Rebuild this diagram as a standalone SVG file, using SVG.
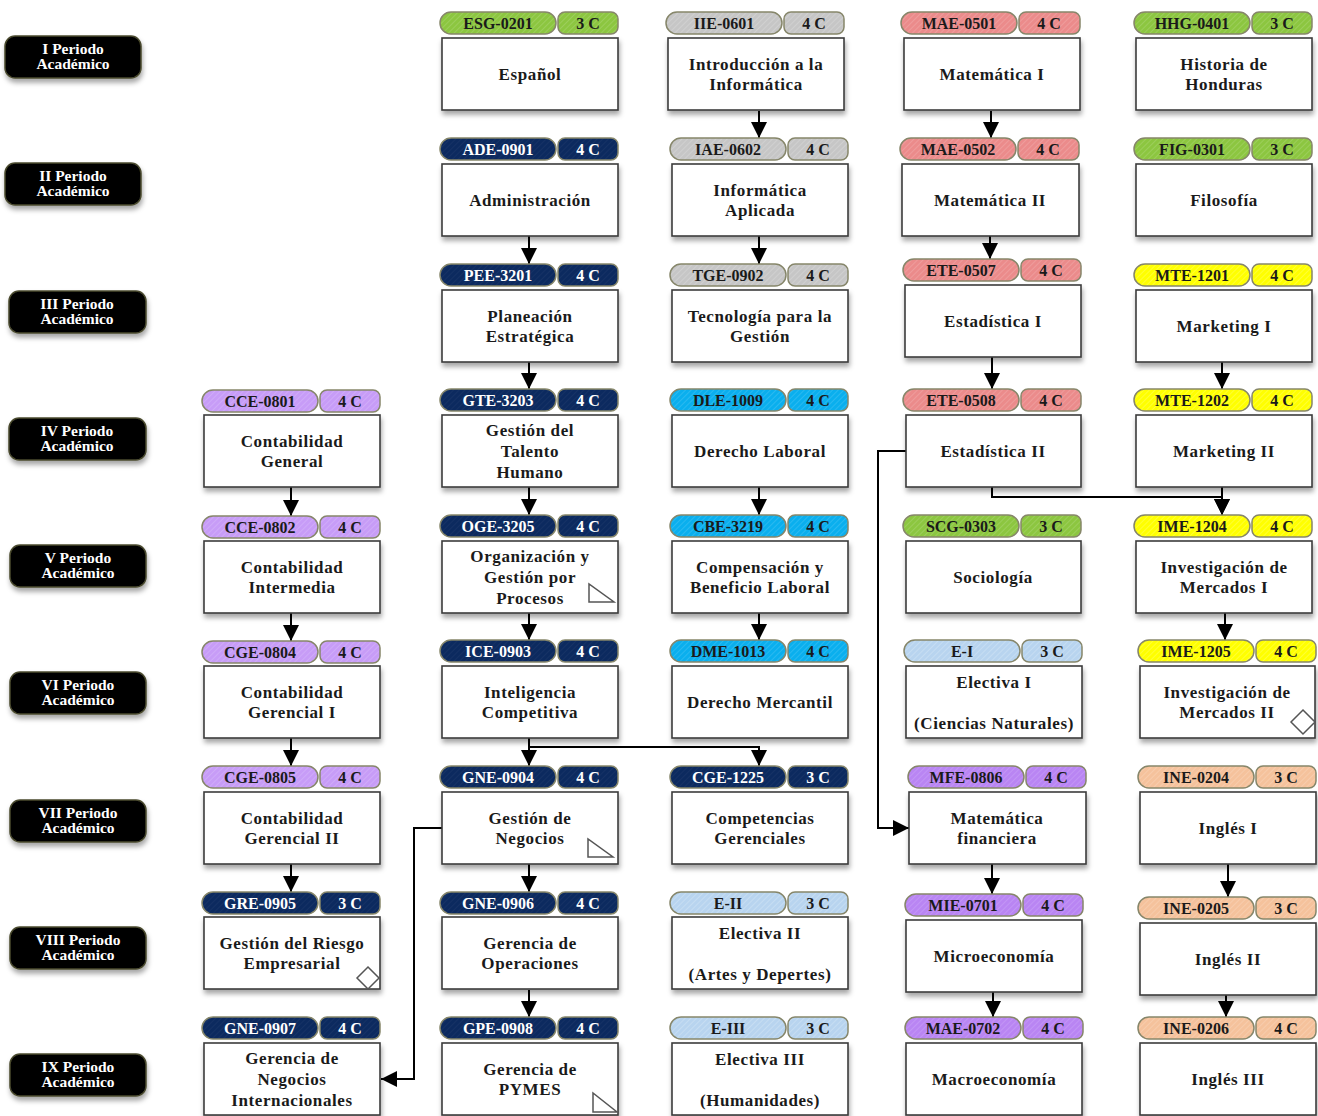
<svg xmlns="http://www.w3.org/2000/svg" width="1318" height="1116" viewBox="0 0 1318 1116">
<style>
.bg{fill:#ffffff}
.hd{stroke:#86866a;stroke-width:1.5}
.box{fill:#ffffff;stroke:#3c3c3c;stroke-width:1.6;filter:url(#sh)}
.per{fill:#000000;stroke:#4a4a2e;stroke-width:1.5;filter:url(#sh)}
.ht{font-family:"Liberation Serif","Times New Roman",serif;font-weight:bold;font-size:16px;text-anchor:middle;fill:#1a1a1a}
.hw{fill:#ffffff}
.t{font-family:"Liberation Serif","Times New Roman",serif;font-weight:bold;font-size:17px;letter-spacing:0.6px;text-anchor:middle;fill:#1a1a1a}
.pt{font-family:"Liberation Serif","Times New Roman",serif;font-weight:bold;font-size:15.5px;text-anchor:middle;fill:#ffffff}
.ic{fill:#ffffff;stroke:#555555;stroke-width:1.5}
.c{fill:none;stroke:#000000;stroke-width:2;marker-end:url(#ar)}
</style>
<defs>
<filter id="sh" x="-10%" y="-10%" width="125%" height="140%">
<feDropShadow dx="1" dy="4" stdDeviation="2.5" flood-color="#000" flood-opacity="0.35"/>
</filter>
<marker id="ar" viewBox="0 0 10 10" refX="10" refY="5" markerWidth="16" markerHeight="16" markerUnits="userSpaceOnUse" orient="auto">
<path d="M0,0 L10,5 L0,10 z" fill="#000"/>
</marker>
<pattern id="pg" width="4" height="4" patternUnits="userSpaceOnUse" patternTransform="rotate(45)"><rect width="4" height="4" fill="#8cc640"/><rect width="1" height="4" fill="#fff" fill-opacity="0.14"/></pattern>
<pattern id="pa" width="4" height="4" patternUnits="userSpaceOnUse" patternTransform="rotate(45)"><rect width="4" height="4" fill="#c6c6c6"/><rect width="1" height="4" fill="#fff" fill-opacity="0.18"/></pattern>
<pattern id="pn" width="4" height="4" patternUnits="userSpaceOnUse" patternTransform="rotate(45)"><rect width="4" height="4" fill="#0c2a5f"/><rect width="1" height="4" fill="#fff" fill-opacity="0.04"/></pattern>
<pattern id="pr" width="4" height="4" patternUnits="userSpaceOnUse" patternTransform="rotate(45)"><rect width="4" height="4" fill="#eb8b8b"/><rect width="1" height="4" fill="#fff" fill-opacity="0.15"/></pattern>
<pattern id="py" width="4" height="4" patternUnits="userSpaceOnUse" patternTransform="rotate(45)"><rect width="4" height="4" fill="#ffff00"/><rect width="1" height="4" fill="#fff" fill-opacity="0.2"/></pattern>
<pattern id="pc" width="4" height="4" patternUnits="userSpaceOnUse" patternTransform="rotate(45)"><rect width="4" height="4" fill="#0aafee"/><rect width="1" height="4" fill="#fff" fill-opacity="0.13"/></pattern>
<pattern id="pl" width="4" height="4" patternUnits="userSpaceOnUse" patternTransform="rotate(45)"><rect width="4" height="4" fill="#c79cf7"/><rect width="1" height="4" fill="#fff" fill-opacity="0.15"/></pattern>
<pattern id="pv" width="4" height="4" patternUnits="userSpaceOnUse" patternTransform="rotate(45)"><rect width="4" height="4" fill="#b985f3"/><rect width="1" height="4" fill="#fff" fill-opacity="0.13"/></pattern>
<pattern id="pb" width="4" height="4" patternUnits="userSpaceOnUse" patternTransform="rotate(45)"><rect width="4" height="4" fill="#b8d4ef"/><rect width="1" height="4" fill="#fff" fill-opacity="0.2"/></pattern>
<pattern id="po" width="4" height="4" patternUnits="userSpaceOnUse" patternTransform="rotate(45)"><rect width="4" height="4" fill="#f5c29c"/><rect width="1" height="4" fill="#fff" fill-opacity="0.16"/></pattern>
</defs>
<rect class="bg" x="0" y="0" width="1318" height="1116"/>

<g id="periods">
<g id="p1"><rect class="per" x="5" y="36" width="136" height="42" rx="10"/><text class="pt" x="73" y="54">I Periodo</text><text class="pt" x="73" y="69">Académico</text></g>
<g id="p2"><rect class="per" x="5" y="163" width="136" height="42" rx="10"/><text class="pt" x="73" y="181">II Periodo</text><text class="pt" x="73" y="196">Académico</text></g>
<g id="p3"><rect class="per" x="9" y="291" width="137" height="42" rx="10"/><text class="pt" x="77" y="309">III Periodo</text><text class="pt" x="77" y="324">Académico</text></g>
<g id="p4"><rect class="per" x="9" y="418" width="137" height="42" rx="10"/><text class="pt" x="77" y="436">IV Periodo</text><text class="pt" x="77" y="451">Académico</text></g>
<g id="p5"><rect class="per" x="10" y="545" width="136" height="42" rx="10"/><text class="pt" x="78" y="563">V Periodo</text><text class="pt" x="78" y="578">Académico</text></g>
<g id="p6"><rect class="per" x="10" y="672" width="136" height="42" rx="10"/><text class="pt" x="78" y="690">VI Periodo</text><text class="pt" x="78" y="705">Académico</text></g>
<g id="p7"><rect class="per" x="10" y="800" width="136" height="42" rx="10"/><text class="pt" x="78" y="818">VII Periodo</text><text class="pt" x="78" y="833">Académico</text></g>
<g id="p8"><rect class="per" x="10" y="927" width="136" height="42" rx="10"/><text class="pt" x="78" y="945">VIII Periodo</text><text class="pt" x="78" y="960">Académico</text></g>
<g id="p9"><rect class="per" x="10" y="1054" width="136" height="42" rx="10"/><text class="pt" x="78" y="1072">IX Periodo</text><text class="pt" x="78" y="1087">Académico</text></g>
</g>

<g id="connectors">
<path class="c" d="M759,111 V138"/>
<path class="c" d="M991,111 V138"/>
<path class="c" d="M529,236 V264"/>
<path class="c" d="M759,236 V264"/>
<path class="c" d="M990,236 V259"/>
<path class="c" d="M529,362 V389"/>
<path class="c" d="M992,357 V389"/>
<path class="c" d="M1222,362 V389"/>
<path class="c" d="M291,487 V516"/>
<path class="c" d="M529,487 V515"/>
<path class="c" d="M759,487 V515"/>
<path class="c" d="M1222,487 V515"/>
<path class="c" d="M992,487 V497 H1222 V515"/>
<path class="c" d="M906,451 H878 V828 H909"/>
<path class="c" d="M291,613 V641"/>
<path class="c" d="M529,613 V640"/>
<path class="c" d="M759,613 V640"/>
<path class="c" d="M1225,613 V640"/>
<path class="c" d="M291,738 V766"/>
<path class="c" d="M529,738 V766"/>
<path class="c" d="M529,747 H759 V766"/>
<path class="c" d="M291,864 V892"/>
<path class="c" d="M529,864 V892"/>
<path class="c" d="M992,864 V894"/>
<path class="c" d="M1228,864 V897"/>
<path class="c" d="M442,828 H414 V1079 H381"/>
<path class="c" d="M529,990 V1017"/>
<path class="c" d="M993,992 V1017"/>
<path class="c" d="M1226,995 V1017"/>
</g>

<!-- Column 0 -->
<g id="n-CCE-0801"><rect class="hd" x="202" y="390" width="116" height="22" rx="11" fill="url(#pl)"/><rect class="hd" x="320" y="390" width="60" height="22" rx="7" fill="url(#pl)"/><text class="ht" x="260" y="407">CCE-0801</text><text class="ht" x="350" y="407">4 C</text><rect class="box" x="204" y="415" width="176" height="72"/><text class="t" x="292" y="447">Contabilidad</text><text class="t" x="292" y="467">General</text></g>
<g id="n-CCE-0802"><rect class="hd" x="202" y="516" width="116" height="22" rx="11" fill="url(#pl)"/><rect class="hd" x="320" y="516" width="60" height="22" rx="7" fill="url(#pl)"/><text class="ht" x="260" y="533">CCE-0802</text><text class="ht" x="350" y="533">4 C</text><rect class="box" x="204" y="541" width="176" height="72"/><text class="t" x="292" y="573">Contabilidad</text><text class="t" x="292" y="593">Intermedia</text></g>
<g id="n-CGE-0804"><rect class="hd" x="202" y="641" width="116" height="22" rx="11" fill="url(#pl)"/><rect class="hd" x="320" y="641" width="60" height="22" rx="7" fill="url(#pl)"/><text class="ht" x="260" y="658">CGE-0804</text><text class="ht" x="350" y="658">4 C</text><rect class="box" x="204" y="666" width="176" height="72"/><text class="t" x="292" y="698">Contabilidad</text><text class="t" x="292" y="718">Gerencial I</text></g>
<g id="n-CGE-0805"><rect class="hd" x="202" y="766" width="116" height="22" rx="11" fill="url(#pl)"/><rect class="hd" x="320" y="766" width="60" height="22" rx="7" fill="url(#pl)"/><text class="ht" x="260" y="783">CGE-0805</text><text class="ht" x="350" y="783">4 C</text><rect class="box" x="204" y="792" width="176" height="72"/><text class="t" x="292" y="824">Contabilidad</text><text class="t" x="292" y="844">Gerencial II</text></g>
<g id="n-GRE-0905"><rect class="hd" x="202" y="892" width="116" height="22" rx="11" fill="url(#pn)"/><rect class="hd" x="320" y="892" width="60" height="22" rx="7" fill="url(#pn)"/><text class="ht hw" x="260" y="909">GRE-0905</text><text class="ht hw" x="350" y="909">3 C</text><rect class="box" x="204" y="917" width="176" height="72"/><text class="t" x="292" y="949">Gestión del Riesgo</text><text class="t" x="292" y="969">Empresarial</text><polygon class="ic" points="368,967 379,978 368,989 357,978"/></g>
<g id="n-GNE-0907"><rect class="hd" x="202" y="1017" width="116" height="22" rx="11" fill="url(#pn)"/><rect class="hd" x="320" y="1017" width="60" height="22" rx="7" fill="url(#pn)"/><text class="ht hw" x="260" y="1034">GNE-0907</text><text class="ht hw" x="350" y="1034">4 C</text><rect class="box" x="204" y="1043" width="176" height="72"/><text class="t" x="292" y="1064">Gerencia de</text><text class="t" x="292" y="1085">Negocios</text><text class="t" x="292" y="1106">Internacionales</text></g>

<!-- Column 1 -->
<g id="n-ESG-0201"><rect class="hd" x="440" y="12" width="116" height="22" rx="11" fill="url(#pg)"/><rect class="hd" x="558" y="12" width="60" height="22" rx="7" fill="url(#pg)"/><text class="ht" x="498" y="29">ESG-0201</text><text class="ht" x="588" y="29">3 C</text><rect class="box" x="442" y="38" width="176" height="72"/><text class="t" x="530" y="80">Español</text></g>
<g id="n-ADE-0901"><rect class="hd" x="440" y="138" width="116" height="22" rx="11" fill="url(#pn)"/><rect class="hd" x="558" y="138" width="60" height="22" rx="7" fill="url(#pn)"/><text class="ht hw" x="498" y="155">ADE-0901</text><text class="ht hw" x="588" y="155">4 C</text><rect class="box" x="442" y="164" width="176" height="72"/><text class="t" x="530" y="206">Administración</text></g>
<g id="n-PEE-3201"><rect class="hd" x="440" y="264" width="116" height="22" rx="11" fill="url(#pn)"/><rect class="hd" x="558" y="264" width="60" height="22" rx="7" fill="url(#pn)"/><text class="ht hw" x="498" y="281">PEE-3201</text><text class="ht hw" x="588" y="281">4 C</text><rect class="box" x="442" y="290" width="176" height="72"/><text class="t" x="530" y="322">Planeación</text><text class="t" x="530" y="342">Estratégica</text></g>
<g id="n-GTE-3203"><rect class="hd" x="440" y="389" width="116" height="22" rx="11" fill="url(#pn)"/><rect class="hd" x="558" y="389" width="60" height="22" rx="7" fill="url(#pn)"/><text class="ht hw" x="498" y="406">GTE-3203</text><text class="ht hw" x="588" y="406">4 C</text><rect class="box" x="442" y="415" width="176" height="72"/><text class="t" x="530" y="436">Gestión del</text><text class="t" x="530" y="457">Talento</text><text class="t" x="530" y="478">Humano</text></g>
<g id="n-OGE-3205"><rect class="hd" x="440" y="515" width="116" height="22" rx="11" fill="url(#pn)"/><rect class="hd" x="558" y="515" width="60" height="22" rx="7" fill="url(#pn)"/><text class="ht hw" x="498" y="532">OGE-3205</text><text class="ht hw" x="588" y="532">4 C</text><rect class="box" x="442" y="541" width="176" height="72"/><text class="t" x="530" y="562">Organización y</text><text class="t" x="530" y="583">Gestión por</text><text class="t" x="530" y="604">Procesos</text><polygon class="ic" points="589,584 589,602 614,602"/></g>
<g id="n-ICE-0903"><rect class="hd" x="440" y="640" width="116" height="22" rx="11" fill="url(#pn)"/><rect class="hd" x="558" y="640" width="60" height="22" rx="7" fill="url(#pn)"/><text class="ht hw" x="498" y="657">ICE-0903</text><text class="ht hw" x="588" y="657">4 C</text><rect class="box" x="442" y="666" width="176" height="72"/><text class="t" x="530" y="698">Inteligencia</text><text class="t" x="530" y="718">Competitiva</text></g>
<g id="n-GNE-0904"><rect class="hd" x="440" y="766" width="116" height="22" rx="11" fill="url(#pn)"/><rect class="hd" x="558" y="766" width="60" height="22" rx="7" fill="url(#pn)"/><text class="ht hw" x="498" y="783">GNE-0904</text><text class="ht hw" x="588" y="783">4 C</text><rect class="box" x="442" y="792" width="176" height="72"/><text class="t" x="530" y="824">Gestión de</text><text class="t" x="530" y="844">Negocios</text><polygon class="ic" points="588,839 588,857 613,857"/></g>
<g id="n-GNE-0906"><rect class="hd" x="440" y="892" width="116" height="22" rx="11" fill="url(#pn)"/><rect class="hd" x="558" y="892" width="60" height="22" rx="7" fill="url(#pn)"/><text class="ht hw" x="498" y="909">GNE-0906</text><text class="ht hw" x="588" y="909">4 C</text><rect class="box" x="442" y="917" width="176" height="72"/><text class="t" x="530" y="949">Gerencia de</text><text class="t" x="530" y="969">Operaciones</text></g>
<g id="n-GPE-0908"><rect class="hd" x="440" y="1017" width="116" height="22" rx="11" fill="url(#pn)"/><rect class="hd" x="558" y="1017" width="60" height="22" rx="7" fill="url(#pn)"/><text class="ht hw" x="498" y="1034">GPE-0908</text><text class="ht hw" x="588" y="1034">4 C</text><rect class="box" x="442" y="1043" width="176" height="72"/><text class="t" x="530" y="1075">Gerencia de</text><text class="t" x="530" y="1095">PYMES</text><polygon class="ic" points="593,1093 593,1112 617,1112"/></g>

<!-- Column 2 -->
<g id="n-IIE-0601"><rect class="hd" x="666" y="12" width="116" height="22" rx="11" fill="url(#pa)"/><rect class="hd" x="784" y="12" width="60" height="22" rx="7" fill="url(#pa)"/><text class="ht" x="724" y="29">IIE-0601</text><text class="ht" x="814" y="29">4 C</text><rect class="box" x="668" y="38" width="176" height="72"/><text class="t" x="756" y="70">Introducción a la</text><text class="t" x="756" y="90">Informática</text></g>
<g id="n-IAE-0602"><rect class="hd" x="670" y="138" width="116" height="22" rx="11" fill="url(#pa)"/><rect class="hd" x="788" y="138" width="60" height="22" rx="7" fill="url(#pa)"/><text class="ht" x="728" y="155">IAE-0602</text><text class="ht" x="818" y="155">4 C</text><rect class="box" x="672" y="164" width="176" height="72"/><text class="t" x="760" y="196">Informática</text><text class="t" x="760" y="216">Aplicada</text></g>
<g id="n-TGE-0902"><rect class="hd" x="670" y="264" width="116" height="22" rx="11" fill="url(#pa)"/><rect class="hd" x="788" y="264" width="60" height="22" rx="7" fill="url(#pa)"/><text class="ht" x="728" y="281">TGE-0902</text><text class="ht" x="818" y="281">4 C</text><rect class="box" x="672" y="290" width="176" height="72"/><text class="t" x="760" y="322">Tecnología para la</text><text class="t" x="760" y="342">Gestión</text></g>
<g id="n-DLE-1009"><rect class="hd" x="670" y="389" width="116" height="22" rx="11" fill="url(#pc)"/><rect class="hd" x="788" y="389" width="60" height="22" rx="7" fill="url(#pc)"/><text class="ht" x="728" y="406">DLE-1009</text><text class="ht" x="818" y="406">4 C</text><rect class="box" x="672" y="415" width="176" height="72"/><text class="t" x="760" y="457">Derecho Laboral</text></g>
<g id="n-CBE-3219"><rect class="hd" x="670" y="515" width="116" height="22" rx="11" fill="url(#pc)"/><rect class="hd" x="788" y="515" width="60" height="22" rx="7" fill="url(#pc)"/><text class="ht" x="728" y="532">CBE-3219</text><text class="ht" x="818" y="532">4 C</text><rect class="box" x="672" y="541" width="176" height="72"/><text class="t" x="760" y="573">Compensación y</text><text class="t" x="760" y="593">Beneficio Laboral</text></g>
<g id="n-DME-1013"><rect class="hd" x="670" y="640" width="116" height="22" rx="11" fill="url(#pc)"/><rect class="hd" x="788" y="640" width="60" height="22" rx="7" fill="url(#pc)"/><text class="ht" x="728" y="657">DME-1013</text><text class="ht" x="818" y="657">4 C</text><rect class="box" x="672" y="666" width="176" height="72"/><text class="t" x="760" y="708">Derecho Mercantil</text></g>
<g id="n-CGE-1225"><rect class="hd" x="670" y="766" width="116" height="22" rx="11" fill="url(#pn)"/><rect class="hd" x="788" y="766" width="60" height="22" rx="7" fill="url(#pn)"/><text class="ht hw" x="728" y="783">CGE-1225</text><text class="ht hw" x="818" y="783">3 C</text><rect class="box" x="672" y="792" width="176" height="72"/><text class="t" x="760" y="824">Competencias</text><text class="t" x="760" y="844">Gerenciales</text></g>
<g id="n-E-II"><rect class="hd" x="670" y="892" width="116" height="22" rx="11" fill="url(#pb)"/><rect class="hd" x="788" y="892" width="60" height="22" rx="7" fill="url(#pb)"/><text class="ht" x="728" y="909">E-II</text><text class="ht" x="818" y="909">3 C</text><rect class="box" x="672" y="917" width="176" height="72"/><text class="t" x="760" y="939">Electiva II</text><text class="t" x="760" y="980">(Artes y Depertes)</text></g>
<g id="n-E-III"><rect class="hd" x="670" y="1017" width="116" height="22" rx="11" fill="url(#pb)"/><rect class="hd" x="788" y="1017" width="60" height="22" rx="7" fill="url(#pb)"/><text class="ht" x="728" y="1034">E-III</text><text class="ht" x="818" y="1034">3 C</text><rect class="box" x="672" y="1043" width="176" height="72"/><text class="t" x="760" y="1065">Electiva III</text><text class="t" x="760" y="1106">(Humanidades)</text></g>

<!-- Column 3 -->
<g id="n-MAE-0501"><rect class="hd" x="901" y="12" width="116" height="22" rx="11" fill="url(#pr)"/><rect class="hd" x="1019" y="12" width="61" height="22" rx="7" fill="url(#pr)"/><text class="ht" x="959" y="29">MAE-0501</text><text class="ht" x="1049" y="29">4 C</text><rect class="box" x="904" y="38" width="176" height="72"/><text class="t" x="992" y="80">Matemática I</text></g>
<g id="n-MAE-0502"><rect class="hd" x="900" y="138" width="116" height="22" rx="11" fill="url(#pr)"/><rect class="hd" x="1018" y="138" width="61" height="22" rx="7" fill="url(#pr)"/><text class="ht" x="958" y="155">MAE-0502</text><text class="ht" x="1048" y="155">4 C</text><rect class="box" x="902" y="164" width="177" height="72"/><text class="t" x="990" y="206">Matemática II</text></g>
<g id="n-ETE-0507"><rect class="hd" x="903" y="259" width="116" height="22" rx="11" fill="url(#pr)"/><rect class="hd" x="1021" y="259" width="60" height="22" rx="7" fill="url(#pr)"/><text class="ht" x="961" y="276">ETE-0507</text><text class="ht" x="1051" y="276">4 C</text><rect class="box" x="905" y="285" width="176" height="72"/><text class="t" x="993" y="327">Estadística I</text></g>
<g id="n-ETE-0508"><rect class="hd" x="903" y="389" width="116" height="22" rx="11" fill="url(#pr)"/><rect class="hd" x="1021" y="389" width="60" height="22" rx="7" fill="url(#pr)"/><text class="ht" x="961" y="406">ETE-0508</text><text class="ht" x="1051" y="406">4 C</text><rect class="box" x="906" y="415" width="175" height="72"/><text class="t" x="993" y="457">Estadística II</text></g>
<g id="n-SCG-0303"><rect class="hd" x="903" y="515" width="116" height="22" rx="11" fill="url(#pg)"/><rect class="hd" x="1021" y="515" width="60" height="22" rx="7" fill="url(#pg)"/><text class="ht" x="961" y="532">SCG-0303</text><text class="ht" x="1051" y="532">3 C</text><rect class="box" x="906" y="541" width="175" height="72"/><text class="t" x="993" y="583">Sociología</text></g>
<g id="n-E-I"><rect class="hd" x="904" y="640" width="116" height="22" rx="11" fill="url(#pb)"/><rect class="hd" x="1022" y="640" width="60" height="22" rx="7" fill="url(#pb)"/><text class="ht" x="962" y="657">E-I</text><text class="ht" x="1052" y="657">3 C</text><rect class="box" x="906" y="666" width="176" height="72"/><text class="t" x="994" y="688">Electiva I</text><text class="t" x="994" y="729">(Ciencias Naturales)</text></g>
<g id="n-MFE-0806"><rect class="hd" x="908" y="766" width="116" height="22" rx="11" fill="url(#pv)"/><rect class="hd" x="1026" y="766" width="60" height="22" rx="7" fill="url(#pv)"/><text class="ht" x="966" y="783">MFE-0806</text><text class="ht" x="1056" y="783">4 C</text><rect class="box" x="909" y="792" width="177" height="72"/><text class="t" x="997" y="824">Matemática</text><text class="t" x="997" y="844">financiera</text></g>
<g id="n-MIE-0701"><rect class="hd" x="905" y="894" width="116" height="22" rx="11" fill="url(#pv)"/><rect class="hd" x="1023" y="894" width="60" height="22" rx="7" fill="url(#pv)"/><text class="ht" x="963" y="911">MIE-0701</text><text class="ht" x="1053" y="911">4 C</text><rect class="box" x="906" y="920" width="176" height="72"/><text class="t" x="994" y="962">Microeconomía</text></g>
<g id="n-MAE-0702"><rect class="hd" x="905" y="1017" width="116" height="22" rx="11" fill="url(#pv)"/><rect class="hd" x="1023" y="1017" width="60" height="22" rx="7" fill="url(#pv)"/><text class="ht" x="963" y="1034">MAE-0702</text><text class="ht" x="1053" y="1034">4 C</text><rect class="box" x="906" y="1043" width="176" height="72"/><text class="t" x="994" y="1085">Macroeconomía</text></g>

<!-- Column 4 -->
<g id="n-HHG-0401"><rect class="hd" x="1134" y="12" width="116" height="22" rx="11" fill="url(#pg)"/><rect class="hd" x="1252" y="12" width="60" height="22" rx="7" fill="url(#pg)"/><text class="ht" x="1192" y="29">HHG-0401</text><text class="ht" x="1282" y="29">3 C</text><rect class="box" x="1136" y="38" width="176" height="72"/><text class="t" x="1224" y="70">Historia de</text><text class="t" x="1224" y="90">Honduras</text></g>
<g id="n-FIG-0301"><rect class="hd" x="1134" y="138" width="116" height="22" rx="11" fill="url(#pg)"/><rect class="hd" x="1252" y="138" width="60" height="22" rx="7" fill="url(#pg)"/><text class="ht" x="1192" y="155">FIG-0301</text><text class="ht" x="1282" y="155">3 C</text><rect class="box" x="1136" y="164" width="176" height="72"/><text class="t" x="1224" y="206">Filosofía</text></g>
<g id="n-MTE-1201"><rect class="hd" x="1134" y="264" width="116" height="22" rx="11" fill="url(#py)"/><rect class="hd" x="1252" y="264" width="60" height="22" rx="7" fill="url(#py)"/><text class="ht" x="1192" y="281">MTE-1201</text><text class="ht" x="1282" y="281">4 C</text><rect class="box" x="1136" y="290" width="176" height="72"/><text class="t" x="1224" y="332">Marketing I</text></g>
<g id="n-MTE-1202"><rect class="hd" x="1134" y="389" width="116" height="22" rx="11" fill="url(#py)"/><rect class="hd" x="1252" y="389" width="60" height="22" rx="7" fill="url(#py)"/><text class="ht" x="1192" y="406">MTE-1202</text><text class="ht" x="1282" y="406">4 C</text><rect class="box" x="1136" y="415" width="176" height="72"/><text class="t" x="1224" y="457">Marketing II</text></g>
<g id="n-IME-1204"><rect class="hd" x="1134" y="515" width="116" height="22" rx="11" fill="url(#py)"/><rect class="hd" x="1252" y="515" width="60" height="22" rx="7" fill="url(#py)"/><text class="ht" x="1192" y="532">IME-1204</text><text class="ht" x="1282" y="532">4 C</text><rect class="box" x="1136" y="541" width="176" height="72"/><text class="t" x="1224" y="573">Investigación de</text><text class="t" x="1224" y="593">Mercados I</text></g>
<g id="n-IME-1205"><rect class="hd" x="1138" y="640" width="116" height="22" rx="11" fill="url(#py)"/><rect class="hd" x="1256" y="640" width="60" height="22" rx="7" fill="url(#py)"/><text class="ht" x="1196" y="657">IME-1205</text><text class="ht" x="1286" y="657">4 C</text><rect class="box" x="1140" y="666" width="175" height="72"/><text class="t" x="1227" y="698">Investigación de</text><text class="t" x="1227" y="718">Mercados II</text><polygon class="ic" points="1303,710 1315,722 1303,734 1291,722"/></g>
<g id="n-INE-0204"><rect class="hd" x="1138" y="766" width="116" height="22" rx="11" fill="url(#po)"/><rect class="hd" x="1256" y="766" width="60" height="22" rx="7" fill="url(#po)"/><text class="ht" x="1196" y="783">INE-0204</text><text class="ht" x="1286" y="783">3 C</text><rect class="box" x="1140" y="792" width="176" height="72"/><text class="t" x="1228" y="834">Inglés I</text></g>
<g id="n-INE-0205"><rect class="hd" x="1138" y="897" width="116" height="22" rx="11" fill="url(#po)"/><rect class="hd" x="1256" y="897" width="60" height="22" rx="7" fill="url(#po)"/><text class="ht" x="1196" y="914">INE-0205</text><text class="ht" x="1286" y="914">3 C</text><rect class="box" x="1140" y="923" width="176" height="72"/><text class="t" x="1228" y="965">Inglés II</text></g>
<g id="n-INE-0206"><rect class="hd" x="1138" y="1017" width="116" height="22" rx="11" fill="url(#po)"/><rect class="hd" x="1256" y="1017" width="60" height="22" rx="7" fill="url(#po)"/><text class="ht" x="1196" y="1034">INE-0206</text><text class="ht" x="1286" y="1034">4 C</text><rect class="box" x="1140" y="1043" width="176" height="72"/><text class="t" x="1228" y="1085">Inglés III</text></g>
</svg>
